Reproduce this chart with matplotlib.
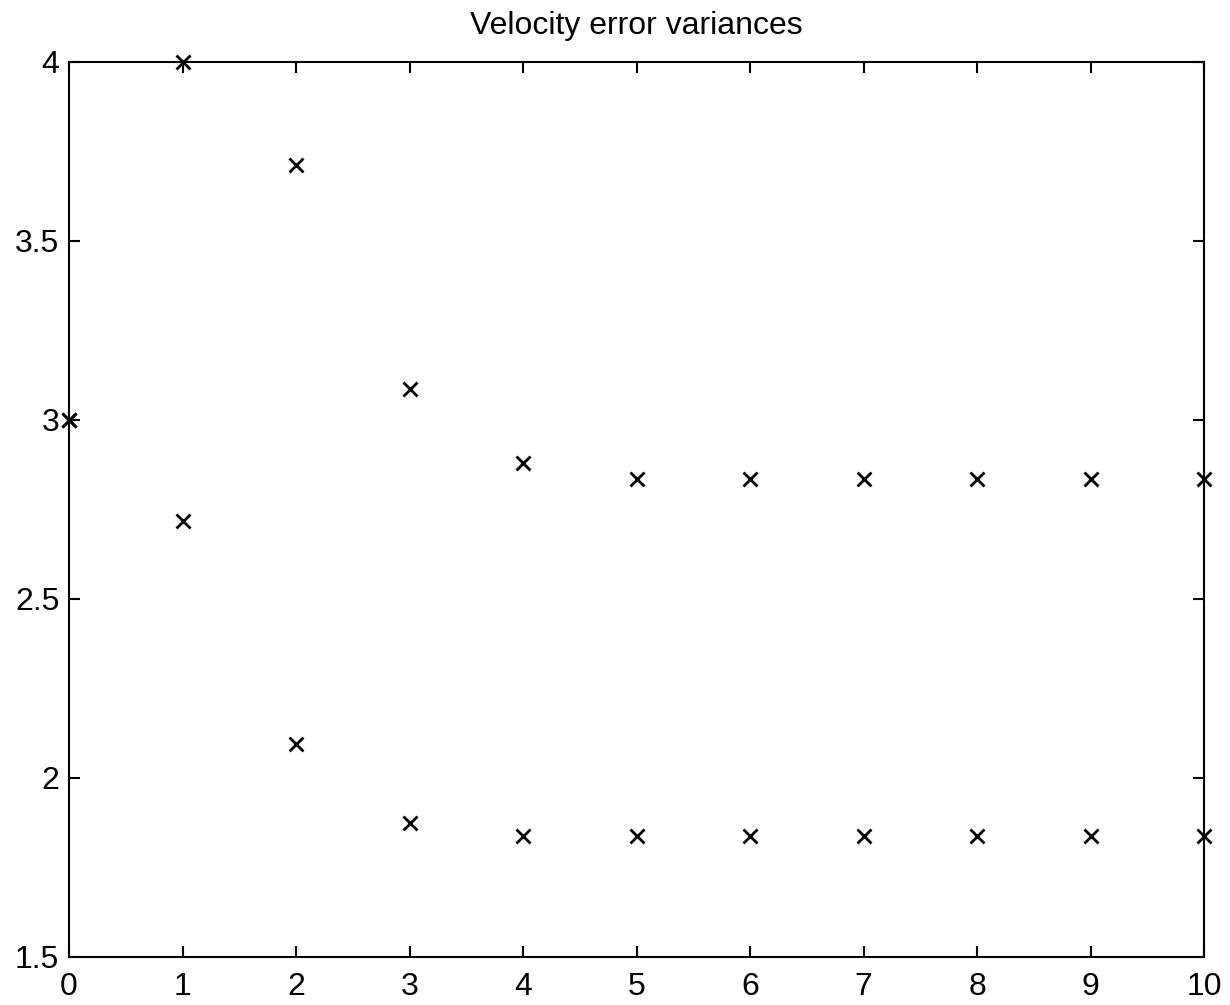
import numpy as np
import matplotlib
matplotlib.use("Agg")
import matplotlib.pyplot as plt

plt.rcParams['font.family'] = ['Liberation Sans', 'DejaVu Sans']

steps = [0, 1, 2, 3, 4, 5, 6, 7, 8, 9, 10]
var_upper = [3.0, 4.0, 3.712, 3.087, 2.878, 2.834, 2.834, 2.834, 2.834, 2.834, 2.834]
var_lower = [3.0, 2.717, 2.095, 1.874, 1.839, 1.839, 1.839, 1.839, 1.839, 1.839, 1.839]

fig = plt.figure(figsize=(12.3, 10.05), dpi=100)
ax = fig.add_axes([0.0561, 0.0478, 0.9228, 0.8908])

ax.plot(steps, var_upper, 'kx', markersize=9.5, markeredgewidth=2, clip_on=False)
ax.plot(steps, var_lower, 'kx', markersize=9.5, markeredgewidth=2, clip_on=False)

ax.set_xlim(0, 10)
ax.set_ylim(1.5, 4)
ax.set_xticks(range(0, 11))
ax.set_yticks([1.5, 2, 2.5, 3, 3.5, 4])
ax.set_yticklabels(['1.5', '2', '2.5', '3', '3.5', '4'])
ax.tick_params(direction='in', length=8, width=1.5, labelsize=23,
               top=True, right=True)
ax.tick_params(axis='x', pad=11)
ax.tick_params(axis='y', pad=7)
for s in ax.spines.values():
    s.set_linewidth(1.5)

ax.set_title('Velocity error variances', fontsize=23, pad=20)

fig.savefig('out.png', dpi=100)
